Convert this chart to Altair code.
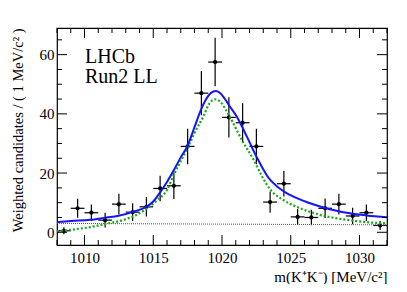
import altair as alt
import pandas as pd

# ---- data ----
mass = [1008.5, 1009.5, 1010.5, 1011.5, 1012.5, 1013.5, 1014.5, 1015.5, 1016.5, 1017.5,
        1018.5, 1019.5, 1020.5, 1021.5, 1022.5, 1023.5, 1024.5, 1025.5, 1026.5, 1027.5,
        1028.5, 1029.5, 1030.5, 1031.5]
counts = [0.5, 8.1, 6.6, 4.1, 9.5, 6.8, 8.6, 14.8, 15.7, 29.0,
          47.0, 57.5, 38.8, 37.0, 29.0, 10.2, 16.4, 5.2, 5.0, 8.1,
          9.5, 5.5, 6.6, 2.3]
errors = [1.2, 3.2, 2.8, 2.5, 3.5, 3.0, 3.3, 4.3, 4.5, 6.0,
          7.5, 8.2, 6.8, 6.6, 6.0, 3.6, 4.3, 2.7, 2.6, 3.3,
          3.5, 2.8, 2.8, 1.5]

total_m = [1008.0, 1009.0, 1010.4, 1011.6, 1012.4, 1013.8, 1014.5, 1015.0, 1015.5, 1016.0,
           1016.5, 1017.0, 1017.45, 1018.0, 1018.4, 1018.8, 1019.2, 1019.55, 1019.9, 1020.2,
           1020.5, 1021.07, 1021.8, 1022.5, 1023.4, 1024.0, 1024.95, 1026.4, 1027.85, 1029.3,
           1030.5, 1032.0]
total_y = [3.4, 3.8, 4.2, 5.0, 5.5, 7.3, 8.6, 10.4, 13.5, 17.0,
           21.0, 25.3, 28.8, 35.5, 40.6, 44.6, 47.1, 47.7, 46.9, 45.1,
           43.0, 39.1, 32.4, 25.6, 18.3, 15.5, 12.6, 9.8, 7.8, 6.4,
           5.7, 5.1]

sig_m = [1008.0, 1009.45, 1010.5, 1011.4, 1012.85, 1013.8, 1014.55, 1015.3, 1016.0, 1016.5,
         1017.0, 1017.55, 1018.0, 1018.64, 1019.1, 1019.5, 1019.9, 1020.3, 1021.5, 1022.3,
         1022.9, 1023.5, 1024.46, 1025.7, 1027.1, 1028.8, 1030.8, 1032.0]
sig_y = [0.3, 1.1, 1.8, 2.7, 4.2, 5.9, 8.1, 10.9, 14.3, 19.5,
         24.0, 29.0, 33.5, 39.1, 43.6, 44.9, 44.0, 41.2, 30.7, 24.5,
         19.0, 14.5, 10.9, 8.1, 5.9, 4.4, 3.3, 3.0]

bkg_m = [1008.0, 1032.0]
bkg_y = [3.0, 2.5]

x_major = [1010, 1015, 1020, 1025, 1030]
x_minor = [v for v in range(1008, 1033) if v % 5 != 0]
y_major = [0, 20, 40, 60]
y_minor = [5, 10, 15, 25, 30, 35, 45, 50, 55, 65]

XMIN, XMAX = 1008, 1032
YMIN, YMAX = -4.3, 69.0
W, H = 330, 217
FONT = "Liberation Serif"

pts = pd.DataFrame({"m": mass, "n": counts, "e": errors})
pts["lo"] = pts["n"] - pts["e"]
pts["hi"] = pts["n"] + pts["e"]
pts["ml"] = (pts["m"] - 0.5).clip(lower=XMIN)
pts["mh"] = (pts["m"] + 0.5).clip(upper=XMAX)

xs = alt.Scale(domain=[XMIN, XMAX], nice=False, zero=False)
ys = alt.Scale(domain=[YMIN, YMAX], nice=False, zero=False)

xaxis = alt.Axis(values=x_major, labelPadding=5,
                 title="m(K⁺K⁻) [MeV/c²]", titleFontSize=15,
                 titleAnchor="end", titleAlign="right", titlePadding=4, format="d")
yaxis = alt.Axis(values=y_major, labelPadding=3,
                 title="Weighted candidates / ( 1 MeV/c² )",
                 titleFontSize=14.5, titleAnchor="end", titlePadding=14)

base = alt.Chart(pts)

vbars = base.mark_rule(color="black", strokeWidth=1.2).encode(
    x=alt.X("m:Q", scale=xs, axis=xaxis),
    y=alt.Y("lo:Q", scale=ys, axis=yaxis),
    y2="hi:Q")
hbars = base.mark_rule(color="black", strokeWidth=1.2).encode(
    x="ml:Q", x2="mh:Q", y="n:Q")
dots = base.mark_circle(color="black", size=18, opacity=1).encode(x="m:Q", y="n:Q")

bkg = alt.Chart(pd.DataFrame({"m": bkg_m, "y": bkg_y})).mark_line(
    color="#555555", strokeWidth=1, strokeDash=[1, 1], clip=True).encode(x="m:Q", y="y:Q")
sig = alt.Chart(pd.DataFrame({"m": sig_m, "y": sig_y})).mark_line(
    color="#18a818", strokeWidth=2.2, strokeDash=[2, 2], interpolate="monotone",
    clip=True).encode(x="m:Q", y="y:Q")
tot = alt.Chart(pd.DataFrame({"m": total_m, "y": total_y})).mark_line(
    color="#1414ff", strokeWidth=2, interpolate="monotone", clip=True).encode(
    x="m:Q", y="y:Q")

def xticks(vals, length):
    d = alt.Chart(pd.DataFrame({"v": vals}))
    bot = d.mark_rule(color="black", strokeWidth=1).encode(
        x="v:Q", y=alt.value(H), y2=alt.value(H - length))
    top = d.mark_rule(color="black", strokeWidth=1).encode(
        x="v:Q", y=alt.value(0), y2=alt.value(length))
    return [bot, top]

def yticks(vals, length):
    d = alt.Chart(pd.DataFrame({"v": vals}))
    left = d.mark_rule(color="black", strokeWidth=1).encode(
        y="v:Q", x=alt.value(0), x2=alt.value(length))
    right = d.mark_rule(color="black", strokeWidth=1).encode(
        y="v:Q", x=alt.value(W), x2=alt.value(W - length))
    return [left, right]

ticks = xticks(x_major, 10) + xticks(x_minor, 5) + yticks(y_major, 10) + yticks(y_minor, 5)

lab1 = alt.Chart(pd.DataFrame({"t": ["LHCb"]})).mark_text(
    font=FONT, fontSize=20, align="left", baseline="alphabetic", color="black").encode(
    x=alt.value(28), y=alt.value(35), text="t:N")
lab2 = alt.Chart(pd.DataFrame({"t": ["Run2 LL"]})).mark_text(
    font=FONT, fontSize=20, align="left", baseline="alphabetic", color="black").encode(
    x=alt.value(28), y=alt.value(55), text="t:N")

chart = alt.layer(vbars, hbars, dots, bkg, sig, tot, *ticks, lab1, lab2).properties(
    width=W, height=H,
    background="white",
    autosize=alt.AutoSizeParams(type="none"),
    padding={"left": 49, "top": 20, "right": 12, "bottom": 39},
).configure_view(stroke="black", strokeWidth=1.2, fill="white").configure_axis(
    labelFont=FONT, labelFontSize=15, labelColor="black",
    titleFont=FONT, titleFontWeight="normal", titleColor="black",
    ticks=False, domain=False, grid=False,
)

chart.save("out.html", embed_options={"renderer": "svg", "actions": False})
